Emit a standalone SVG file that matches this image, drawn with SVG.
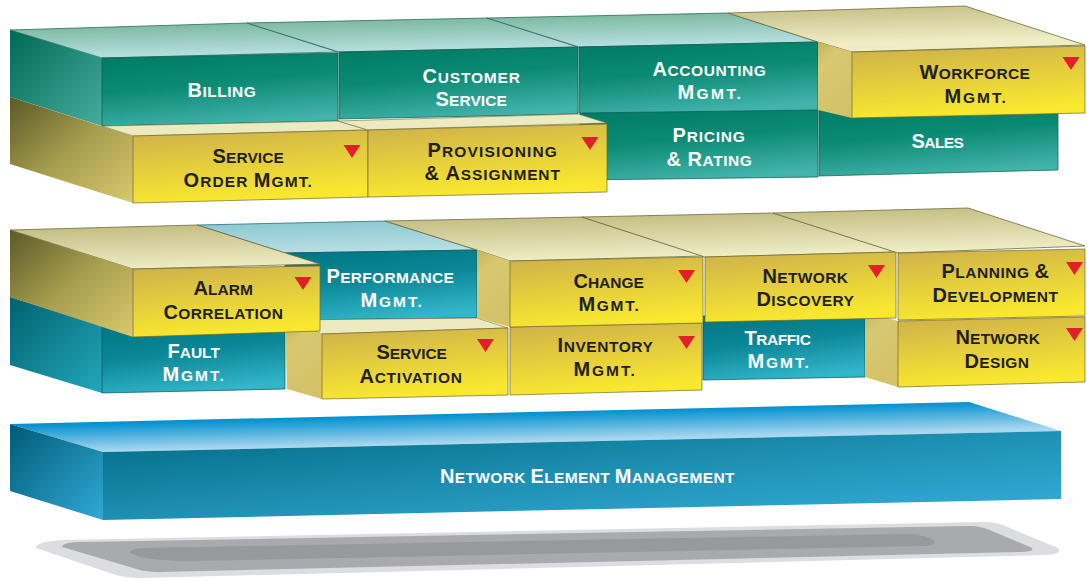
<svg xmlns="http://www.w3.org/2000/svg" width="1087" height="581" viewBox="0 0 1087 581">
<defs>
<style>
.t{font-family:"Liberation Sans",Arial,sans-serif;font-weight:700;font-size:15.5px;text-anchor:middle;letter-spacing:0.6px}
.k{font-size:20px}
.w{fill:#ffffff}
.d{fill:#231f20}
.ft{stroke:#0b5a4d;stroke-width:0.7}
.fb{stroke:#0a5560;stroke-width:0.7}
.fy{stroke:#6f6a2c;stroke-width:0.7}
.tt{stroke:#2d6c5e;stroke-width:0.8}
.ty{stroke:#6f6c3a;stroke-width:0.8}
.tb{stroke:#2a6f80;stroke-width:0.8}
.strip{fill:#ebeac1;stroke:#6f6c3a;stroke-width:0.6}
.tri{fill:#e3202a}
</style>
<linearGradient id="tealF" x1="0.2" y1="0" x2="0.5" y2="1">
<stop offset="0" stop-color="#007c66"/><stop offset="0.45" stop-color="#0b8a73"/><stop offset="1" stop-color="#43b3ab"/>
</linearGradient>
<linearGradient id="tealS" x1="0" y1="0" x2="1" y2="1">
<stop offset="0" stop-color="#006a55"/><stop offset="1" stop-color="#45ad9d"/>
</linearGradient>
<linearGradient id="tealT" gradientUnits="userSpaceOnUse" x1="487" y1="18" x2="487.7" y2="50">
<stop offset="0" stop-color="#7fbaa2"/><stop offset="1" stop-color="#b8e1e3"/>
</linearGradient>
<linearGradient id="yelT1" gradientUnits="userSpaceOnUse" x1="487" y1="14" x2="487.9" y2="52">
<stop offset="0" stop-color="#c6bf86"/><stop offset="1" stop-color="#eeedc5"/>
</linearGradient>
<linearGradient id="blueF" x1="0.2" y1="0" x2="0.5" y2="1">
<stop offset="0" stop-color="#007683"/><stop offset="0.45" stop-color="#0b8797"/><stop offset="1" stop-color="#33b6c9"/>
</linearGradient>
<linearGradient id="blueS" x1="0" y1="0" x2="1" y2="1">
<stop offset="0" stop-color="#00616e"/><stop offset="1" stop-color="#22a8bb"/>
</linearGradient>
<linearGradient id="blueT" gradientUnits="userSpaceOnUse" x1="489" y1="219" x2="490" y2="261">
<stop offset="0" stop-color="#8fcad1"/><stop offset="1" stop-color="#c8e8ec"/>
</linearGradient>
<linearGradient id="yelT2" gradientUnits="userSpaceOnUse" x1="489" y1="219" x2="490" y2="261">
<stop offset="0" stop-color="#c6bf86"/><stop offset="1" stop-color="#eeedc5"/>
</linearGradient>
<linearGradient id="yelF" x1="0" y1="0" x2="0.25" y2="1">
<stop offset="0" stop-color="#cdb04c"/><stop offset="1" stop-color="#f9e82f"/>
</linearGradient>
<linearGradient id="yelS" x1="0" y1="0" x2="1" y2="1">
<stop offset="0" stop-color="#5b5a27"/><stop offset="0.5" stop-color="#a69d4f"/><stop offset="1" stop-color="#d9c96d"/>
</linearGradient>
<linearGradient id="tanS" x1="0" y1="0" x2="0.4" y2="1">
<stop offset="0" stop-color="#c2b25c"/><stop offset="0.3" stop-color="#d8c872"/><stop offset="1" stop-color="#d3c267"/>
</linearGradient>
<linearGradient id="nemF" x1="0" y1="0" x2="1" y2="1">
<stop offset="0" stop-color="#006b84"/><stop offset="0.5" stop-color="#1e90b3"/><stop offset="1" stop-color="#37afdb"/>
</linearGradient>
<linearGradient id="nemS" x1="0" y1="0" x2="1" y2="1">
<stop offset="0" stop-color="#005a76"/><stop offset="1" stop-color="#30a9d6"/>
</linearGradient>
<linearGradient id="nemT" gradientUnits="userSpaceOnUse" x1="490" y1="413" x2="490.7" y2="442">
<stop offset="0" stop-color="#0090cf"/><stop offset="1" stop-color="#a9d7ef"/>
</linearGradient>
<path id="tri" class="tri" d="M-8.5,0 L8.5,0 L0,13 Z"/>
</defs>

<g id="shadow">
<path d="M36,548 C36,543 48,541 62,540 L984,522 C996,522 1004,525 1012,529 L1056,547 C1063,551 1058,555 1046,555 L142,578 C128,578 118,576 110,573 Z" fill="#dcdde0"/>
<path d="M62,547 C62,543 72,542 84,542 L968,526 C978,526 986,528 992,531 L1030,547 C1036,550 1030,552 1020,552 L160,572 C148,572 138,570 130,567 Z" fill="#a9aaae"/>
<path d="M130,553 C130,549 138,548 146,548 L905,534 C918,534 930,537 934,541 C936,545 930,546 920,546 L190,561 C170,561 150,559 140,557 Z" fill="#98999d"/>
</g>

<g id="nem">
<polygon points="10,424 969,402 1061,431 103,452" fill="url(#nemT)"/>
<polygon points="10,424 103,452 103,520 10,491" fill="url(#nemS)"/>
<polygon points="103,452 1061,431 1061,499 103,520" fill="url(#nemF)"/>
<text class="t w" x="587.5" y="483" textLength="295" lengthAdjust="spacing"><tspan class="k">N</tspan>ETWORK <tspan class="k">E</tspan>LEMENT <tspan class="k">M</tspan>ANAGEMENT</text>
</g>

<g id="perf">
<polygon class="tb" points="197,225 385,221 477,250 285,253" fill="url(#blueT)"/>
<polygon class="fb" points="285,253 477,250 477,318 285,320" fill="url(#blueF)"/>
<text class="t w" x="390.5" y="283" textLength="128" lengthAdjust="spacing"><tspan class="k">P</tspan>ERFORMANCE</text>
<text class="t w" x="391.5" y="307" textLength="62" lengthAdjust="spacing"><tspan class="k">M</tspan>GMT.</text>
</g>

<g id="fault">
<polygon points="10,297 102,326 102,393 10,365" fill="url(#blueS)"/>
<polygon class="fb" points="102,327 285,323 285,389 102,393" fill="url(#blueF)"/>
<text class="t w" x="194" y="358" textLength="53" lengthAdjust="spacing"><tspan class="k">F</tspan>AULT</text>
<text class="t w" x="193.5" y="381" textLength="62" lengthAdjust="spacing"><tspan class="k">M</tspan>GMT.</text>
</g>

<g id="traffic">
<polygon class="fb" points="703,316 865,313 865,377 703,380" fill="url(#blueF)"/>
<text class="t w" x="778" y="345" textLength="67" lengthAdjust="spacing"><tspan class="k">T</tspan>RAFFIC</text>
<text class="t w" x="778.5" y="368" textLength="62" lengthAdjust="spacing"><tspan class="k">M</tspan>GMT.</text>
</g>

<g id="network-design">
<polygon points="865,311 898,321 898,387 865,377" fill="url(#tanS)"/>
<polygon class="fy" points="898,321 1085,317 1085,382 898,387" fill="url(#yelF)"/>
<text class="t d" x="998" y="344" textLength="85" lengthAdjust="spacing"><tspan class="k">N</tspan>ETWORK</text>
<text class="t d" x="997" y="368" textLength="65" lengthAdjust="spacing"><tspan class="k">D</tspan>ESIGN</text>
<use href="#tri" x="1074.5" y="328"/>
</g>

<g id="service-activation">
<polygon class="strip" points="285,320 477,318 508,328 322,334"/>
<polygon points="285,322 322,334 322,399 287,389" fill="url(#tanS)"/>
<polygon class="fy" points="322,334 508,328 508,395 322,399" fill="url(#yelF)"/>
<text class="t d" x="412" y="359" textLength="71" lengthAdjust="spacing"><tspan class="k">S</tspan>ERVICE</text>
<text class="t d" x="411" y="383" textLength="103" lengthAdjust="spacing"><tspan class="k">A</tspan>CTIVATION</text>
<use href="#tri" x="485.5" y="339"/>
</g>

<g id="inventory">
<polygon class="fy" points="510,327 702,323 702,390 510,395" fill="url(#yelF)"/>
<text class="t d" x="605.5" y="352" textLength="96" lengthAdjust="spacing"><tspan class="k">I</tspan>NVENTORY</text>
<text class="t d" x="604.5" y="376" textLength="62" lengthAdjust="spacing"><tspan class="k">M</tspan>GMT.</text>
<use href="#tri" x="686.5" y="336"/>
</g>

<g id="change">
<polygon class="ty" points="385,221 582,217 703,256 510,261 477,250" fill="url(#yelT2)"/>
<polygon points="477,250 510,261 510,327 477,318" fill="url(#tanS)"/>
<polygon class="fy" points="510,261 703,257 703,323 510,327" fill="url(#yelF)"/>
<text class="t d" x="609" y="288" textLength="71" lengthAdjust="spacing"><tspan class="k">C</tspan>HANGE</text>
<text class="t d" x="609" y="311" textLength="61" lengthAdjust="spacing"><tspan class="k">M</tspan>GMT.</text>
<use href="#tri" x="686.5" y="270"/>
</g>

<g id="network-discovery">
<polygon class="ty" points="582,217 773,213 896,252 705,257" fill="url(#yelT2)"/>
<polygon class="fy" points="705,257 896,252 896,318 705,322" fill="url(#yelF)"/>
<text class="t d" x="805.5" y="283" textLength="86" lengthAdjust="spacing"><tspan class="k">N</tspan>ETWORK</text>
<text class="t d" x="805.5" y="306" textLength="98" lengthAdjust="spacing"><tspan class="k">D</tspan>ISCOVERY</text>
<use href="#tri" x="876.5" y="265"/>
</g>

<g id="planning">
<polygon class="ty" points="773,213 968,208 1085,246 898,253" fill="url(#yelT2)"/>
<polygon class="fy" points="898,253 1085,249 1085,316 898,320" fill="url(#yelF)"/>
<text class="t d" x="995.5" y="278" textLength="108" lengthAdjust="spacing"><tspan class="k">P</tspan>LANNING <tspan class="k">&amp;</tspan></text>
<text class="t d" x="995.5" y="302" textLength="126" lengthAdjust="spacing"><tspan class="k">D</tspan>EVELOPMENT</text>
<use href="#tri" x="1074.5" y="262"/>
</g>

<g id="alarm">
<polygon class="ty" points="10,230 197,225 320,264 133,269" fill="url(#yelT2)"/>
<polygon points="10,230 133,269 133,337 10,297" fill="url(#yelS)"/>
<polygon class="fy" points="133,269 320,266 320,331 133,337" fill="url(#yelF)"/>
<text class="t d" x="223.5" y="295" textLength="60" lengthAdjust="spacing"><tspan class="k">A</tspan>LARM</text>
<text class="t d" x="223.5" y="319" textLength="120" lengthAdjust="spacing"><tspan class="k">C</tspan>ORRELATION</text>
<use href="#tri" x="303" y="277"/>
</g>

<g id="pricing">
<polygon class="ft" points="580,112 818,109 818,177 580,180" fill="url(#tealF)"/>
<text class="t w" x="709" y="142" textLength="73" lengthAdjust="spacing"><tspan class="k">P</tspan>RICING</text>
<text class="t w" x="709.5" y="166" textLength="86" lengthAdjust="spacing"><tspan class="k">&amp; R</tspan>ATING</text>
</g>

<g id="sales">
<polygon class="ft" points="819,108 1058,105 1058,170 819,176" fill="url(#tealF)"/>
<text class="t w" x="938" y="148" textLength="53" lengthAdjust="spacing"><tspan class="k">S</tspan>ALES</text>
</g>

<g id="billing">
<polygon class="tt" points="10,30 247,23 338,52 102,58" fill="url(#tealT)"/>
<polygon points="10,30 102,58 102,126 10,97" fill="url(#tealS)"/>
<polygon class="ft" points="102,58 338,53 338,121 102,126" fill="url(#tealF)"/>
<text class="t w" x="222" y="97" textLength="69" lengthAdjust="spacing"><tspan class="k">B</tspan>ILLING</text>
</g>

<g id="customer-service">
<polygon class="tt" points="247,23 487,18 578,47 339,52" fill="url(#tealT)"/>
<polygon class="ft" points="339,52 578,47 578,114 339,119" fill="url(#tealF)"/>
<text class="t w" x="471.5" y="83" textLength="98" lengthAdjust="spacing"><tspan class="k">C</tspan>USTOMER</text>
<text class="t w" x="471.5" y="106" textLength="72" lengthAdjust="spacing"><tspan class="k">S</tspan>ERVICE</text>
</g>

<g id="accounting">
<polygon class="tt" points="487,18 728,13 818,42 579,47" fill="url(#tealT)"/>
<polygon class="ft" points="579,47 818,42 818,110 579,113" fill="url(#tealF)"/>
<text class="t w" x="709.5" y="76" textLength="114" lengthAdjust="spacing"><tspan class="k">A</tspan>CCOUNTING</text>
<text class="t w" x="709.5" y="99" textLength="64" lengthAdjust="spacing"><tspan class="k">M</tspan>GMT.</text>
</g>

<g id="workforce">
<polygon class="ty" points="728,13 965,6 1085,45 852,52 818,42" fill="url(#yelT1)"/>
<polygon points="818,42 852,52 852,118 818,110" fill="url(#tanS)"/>
<polygon class="fy" points="852,52 1085,46 1085,113 852,118" fill="url(#yelF)"/>
<text class="t d" x="975" y="79" textLength="111" lengthAdjust="spacing"><tspan class="k">W</tspan>ORKFORCE</text>
<text class="t d" x="975.5" y="103" textLength="62" lengthAdjust="spacing"><tspan class="k">M</tspan>GMT.</text>
<use href="#tri" x="1071" y="57"/>
</g>

<g id="service-order">
<polygon class="strip" points="102,126 338,121 368,130 133,136"/>
<polygon points="10,97 133,136 133,203 10,164" fill="url(#yelS)"/>
<polygon class="fy" points="133,136 368,130 368,197 133,203" fill="url(#yelF)"/>
<text class="t d" x="248.5" y="163" textLength="72" lengthAdjust="spacing"><tspan class="k">S</tspan>ERVICE</text>
<text class="t d" x="248" y="187" textLength="129" lengthAdjust="spacing"><tspan class="k">O</tspan>RDER <tspan class="k">M</tspan>GMT.</text>
<use href="#tri" x="352" y="145"/>
</g>

<g id="provisioning">
<polygon class="strip" points="338,121 578,114 607,123 368,130"/>
<polygon class="fy" points="368,130 607,124 607,192 368,197" fill="url(#yelF)"/>
<text class="t d" x="492.5" y="157" textLength="130" lengthAdjust="spacing"><tspan class="k">P</tspan>ROVISIONING</text>
<text class="t d" x="492.5" y="180" textLength="136" lengthAdjust="spacing"><tspan class="k">&amp; A</tspan>SSIGNMENT</text>
<use href="#tri" x="590" y="137"/>
</g>
</svg>
